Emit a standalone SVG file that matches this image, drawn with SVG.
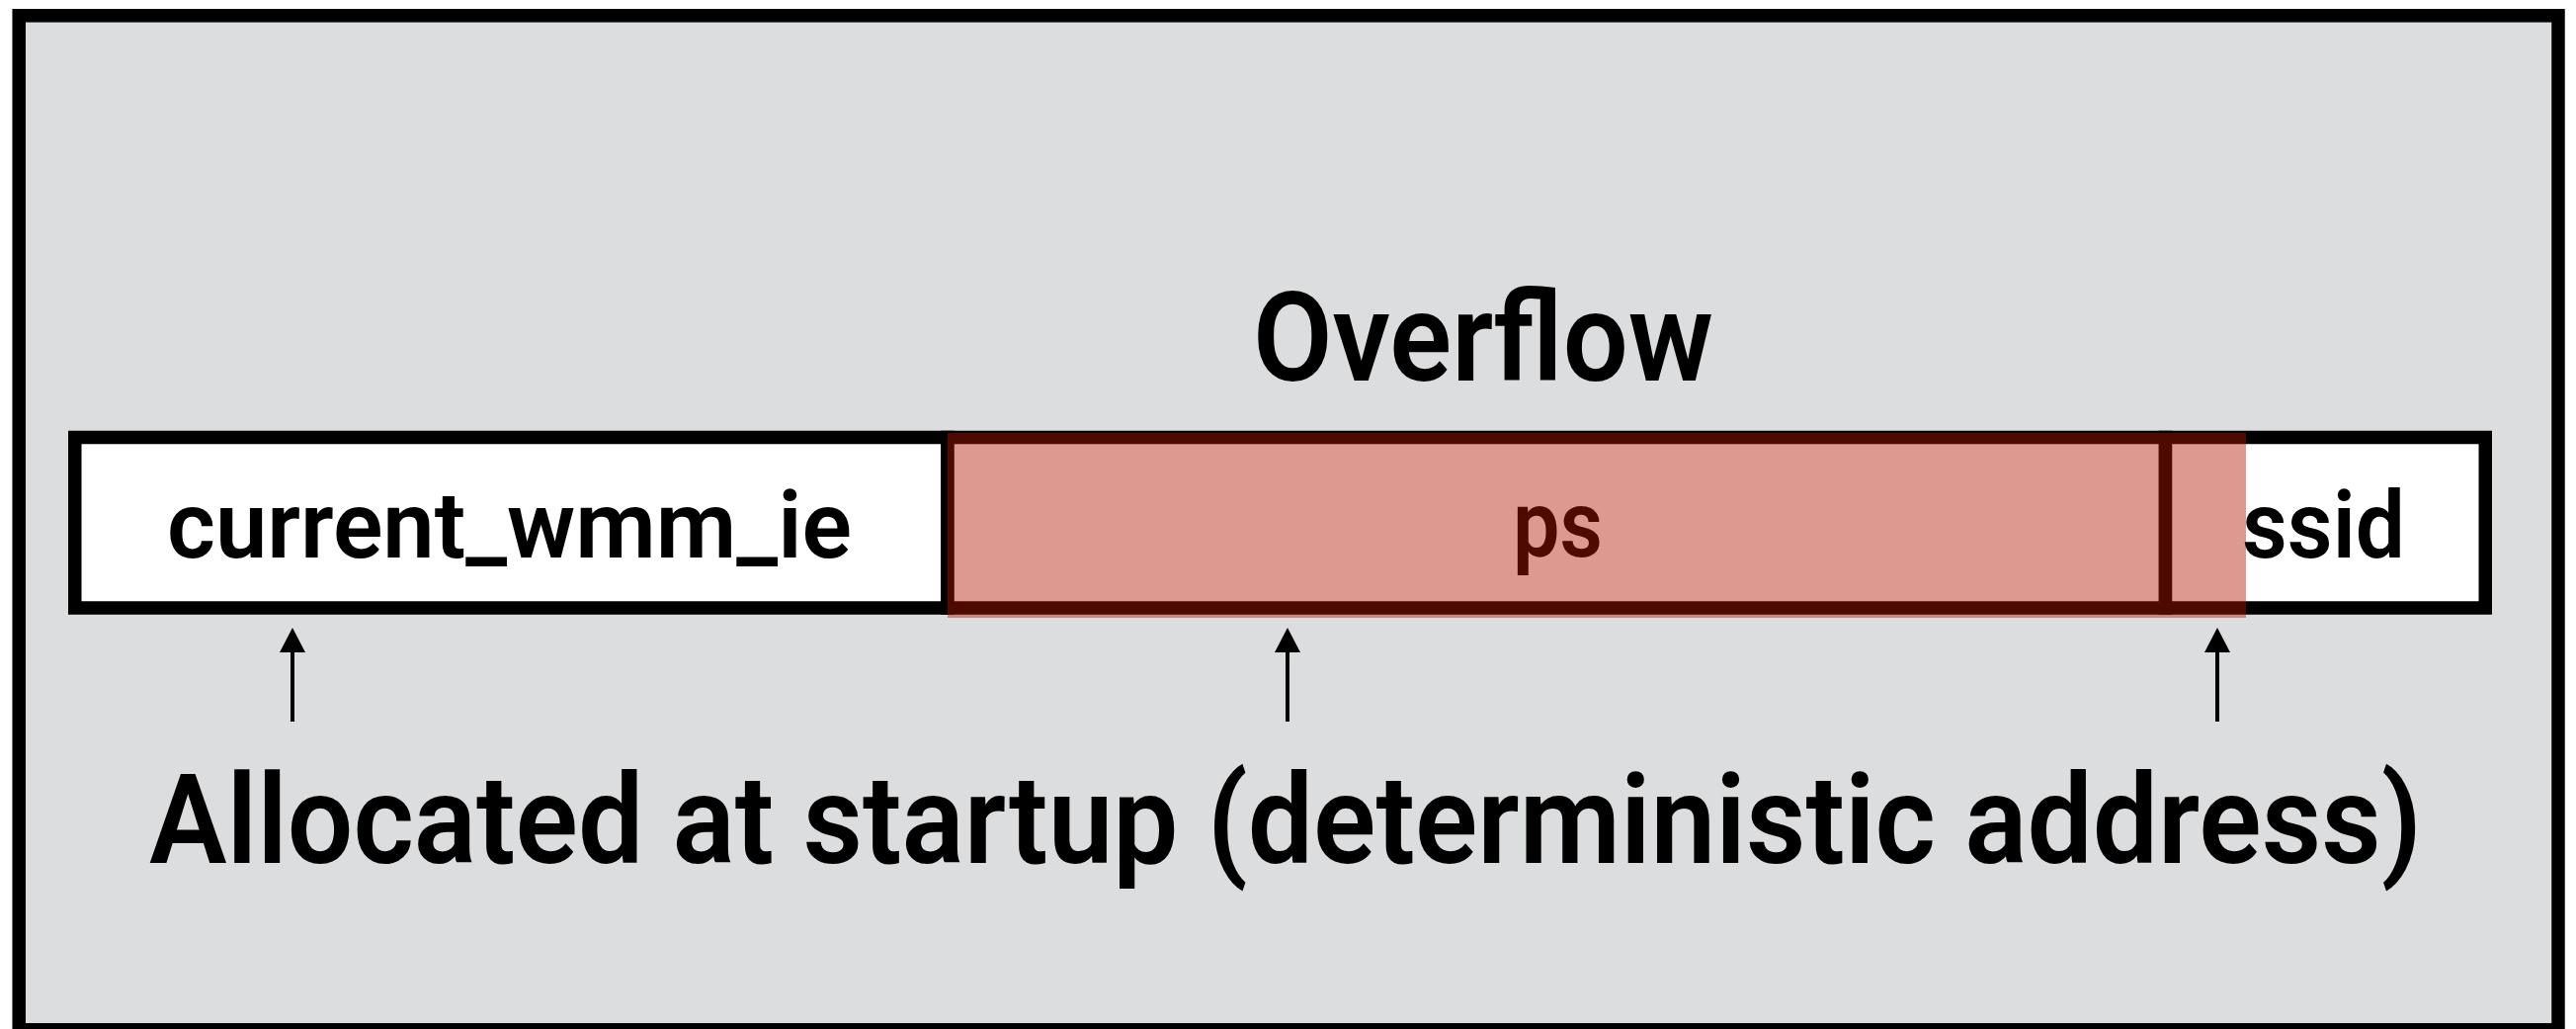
<svg xmlns="http://www.w3.org/2000/svg" width="2607" height="1041" viewBox="0 0 2607 1041">
  <style>
    .frame { fill: #DCDDDF; stroke: #000; stroke-width: 13.5; }
    .cell { fill: #FFFFFF; stroke: #000; stroke-width: 13.5; }
    .overlay { fill: #B11700; fill-opacity: 0.44; }
    .lbl { font-family: Roboto, "Liberation Sans", sans-serif; font-weight: 600; fill: #000; }
    .cellText { font-size: 94px; }
    .big { font-size: 127px; }
    .conn { stroke: #000; stroke-width: 4; fill: none; }
  </style>
  <defs>
    <marker id="head" viewBox="0 0 25 26" refX="15" refY="13" markerWidth="25" markerHeight="26" markerUnits="userSpaceOnUse" orient="auto">
      <path d="M0,0 L25,13 L0,26 z" fill="#000"/>
    </marker>
  </defs>
  <rect width="2607" height="1041" fill="#FFFFFF"/>
  <rect class="frame" x="19.2" y="15.8" width="2569.8" height="1026"/>

  <g id="title">
    <text class="lbl big" x="1268" y="385" textLength="466" lengthAdjust="spacingAndGlyphs">Overflow</text>
  </g>

  <g id="current_wmm_ie">
    <rect class="cell" x="75.75" y="442.5" width="883.25" height="172.5"/>
    <text class="lbl cellText" x="169" y="564" textLength="693" lengthAdjust="spacingAndGlyphs">current_wmm_ie</text>
  </g>

  <g id="ps">
    <rect class="cell" x="959" y="442.5" width="1232.5" height="172.5"/>
  </g>

  <g id="ssid">
    <rect class="cell" x="2191.5" y="442.5" width="323.75" height="172.5"/>
  </g>

  <g id="overflow">
    <rect class="overlay" x="959" y="438" width="1314" height="187"/>
    <text class="lbl cellText" x="1531" y="563" textLength="91" lengthAdjust="spacingAndGlyphs" style="fill:#4E0A00">ps</text>
  </g>

  <g id="ssid-label">
    <text class="lbl cellText" x="2269" y="564" textLength="165" lengthAdjust="spacingAndGlyphs">ssid</text>
  </g>

  <g id="connectors">
    <line class="conn" x1="296" y1="730" x2="296" y2="645" marker-end="url(#head)"/>
    <line class="conn" x1="1303" y1="730" x2="1303" y2="645" marker-end="url(#head)"/>
    <line class="conn" x1="2244" y1="730" x2="2244" y2="645" marker-end="url(#head)"/>
  </g>

  <g id="caption">
    <text class="lbl big" x="151" y="873" textLength="2300" lengthAdjust="spacingAndGlyphs">Allocated at startup (deterministic address)</text>
  </g>
</svg>
